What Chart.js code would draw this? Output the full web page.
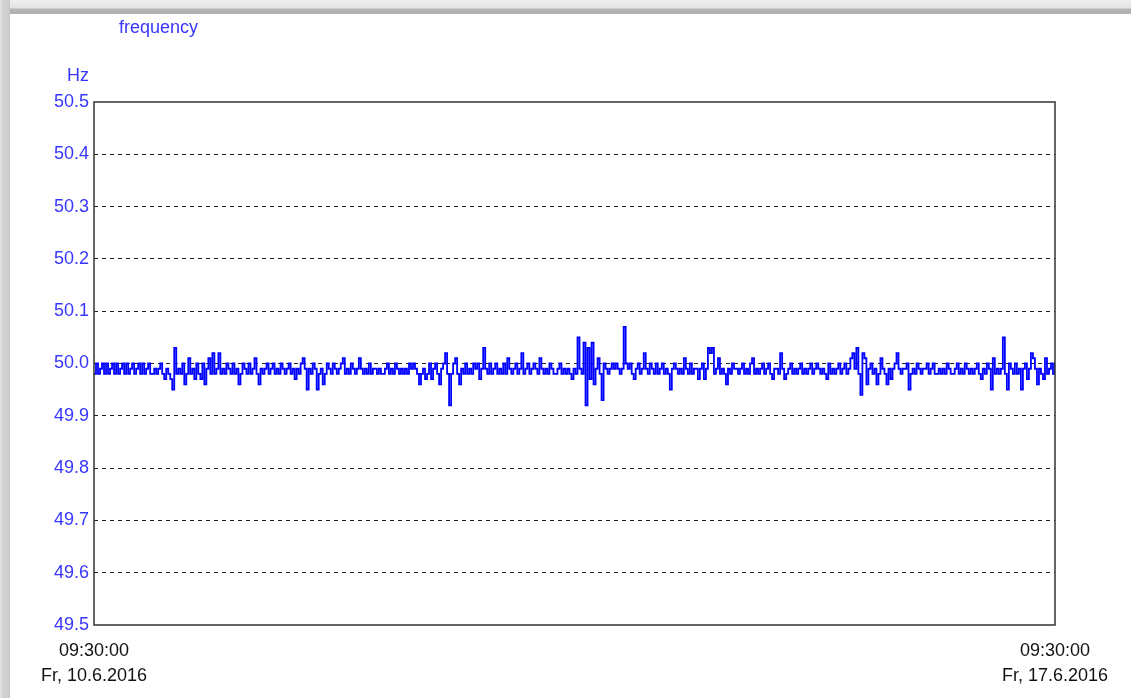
<!DOCTYPE html>
<html>
<head>
<meta charset="utf-8">
<script src="https://cdn.jsdelivr.net/npm/chart.js@4.4.0/dist/chart.umd.min.js"></script>
<style>
    body { margin: 0; width: 1131px; height: 698px; overflow: hidden; background: #fff; font-family: "Liberation Sans", Arial, sans-serif; }
    #topBar { position: absolute; left: 0; top: 0; width: 1131px; height: 14px; background: linear-gradient(#eeeeee 0px, #e2e2e2 8px, #b4b4b4 9px, #b0b0b0 14px); }
    #leftBar { position: absolute; left: 0; top: 0; width: 10px; height: 698px; background: linear-gradient(to right, #e4e4e4 0px, #d2d2d2 3px, #d0d0d0 8px, #c4c4c4 10px); }
    #box { position: absolute; left: 10px; top: 14px; width: 1121px; height: 684px; background: #fff; }
</style>
</head>
<body>
<div id="topBar"></div>
<div id="leftBar"></div>
<div id="box"><canvas id="freqChart" width="1121" height="684"></canvas></div>
<script>
// frequency readings, one week (10.6.2016 09:30 -> 17.6.2016 09:30), ~21 min apart
var freqValues = [
    49.98, 50.0, 49.98, 49.99, 50.0, 49.98, 50.0, 49.98, 49.99, 50.0, 49.98, 50.0, 49.98, 49.99, 50.0, 49.98, 50.0, 49.98, 49.99, 50.0,
    49.98, 49.99, 50.0, 49.98, 50.0, 49.98, 49.99, 50.0, 49.98, 49.98, 49.99, 49.98, 49.99, 50.0, 49.98, 49.97, 49.99, 49.98, 49.97, 49.95,
    50.03, 49.98, 49.99, 49.98, 50.0, 49.96, 49.98, 50.01, 49.98, 49.99, 49.97, 50.0, 49.98, 49.97, 50.0, 49.96, 49.99, 50.01, 49.98, 50.02,
    49.98, 49.99, 50.02, 49.98, 49.99, 49.98, 50.0, 49.99, 49.98, 50.0, 49.98, 49.99, 49.96, 49.98, 50.0, 49.99, 49.98, 50.0, 49.98, 49.99,
    50.01, 49.98, 49.96, 49.99, 49.98, 49.99, 50.0, 49.98, 49.99, 50.0, 49.98, 49.99, 49.98, 50.0, 49.99, 49.98, 49.99, 50.0, 49.98, 49.99,
    49.97, 49.99, 49.98, 50.0, 50.01, 49.99, 49.95, 49.99, 49.98, 50.0, 49.99, 49.95, 49.98, 49.99, 49.96, 49.98, 50.0, 49.99, 49.98, 50.0,
    49.99, 49.98, 49.99, 50.0, 50.01, 49.98, 49.99, 49.98, 50.0, 49.99, 49.98, 49.99, 50.01, 49.99, 49.98, 49.99, 49.98, 50.0, 49.98, 49.99,
    49.99, 49.98, 49.99, 49.98, 49.98, 49.99, 50.0, 49.98, 49.99, 49.98, 50.0, 49.99, 49.98, 49.99, 49.98, 49.99, 49.98, 50.0, 49.99, 50.0,
    49.99, 49.98, 49.96, 49.98, 49.99, 49.97, 49.98, 50.0, 49.97, 49.99, 50.0, 49.98, 49.96, 49.99, 50.0, 50.02, 49.98, 49.92, 49.98, 50.0,
    50.01, 49.98, 49.96, 49.99, 49.98, 50.0, 49.98, 49.99, 49.98, 50.0, 49.99, 50.0, 49.97, 49.99, 50.03, 49.99, 49.98, 50.0, 49.98, 49.99,
    50.0, 49.98, 49.99, 49.98, 50.0, 49.98, 50.01, 49.99, 49.98, 49.99, 50.0, 49.98, 49.99, 50.02, 49.98, 49.99, 50.0, 49.98, 49.99, 50.0,
    49.99, 49.98, 50.01, 49.99, 49.98, 49.99, 49.98, 50.0, 49.99, 49.98, 49.98, 49.99, 50.0, 49.98, 49.99, 49.98, 49.99, 49.98, 49.97, 49.99,
    49.98, 50.05, 49.99, 49.98, 50.04, 49.92, 50.03, 49.97, 50.04, 49.96, 49.99, 50.01, 49.98, 49.93, 50.0, 49.99, 49.98, 49.99, 50.0, 49.99,
    50.0, 49.99, 49.98, 49.99, 50.07, 50.0, 49.99, 50.0, 49.98, 49.97, 49.99, 50.0, 49.98, 49.99, 50.02, 49.99, 49.98, 50.0, 49.99, 49.98,
    50.0, 49.98, 49.99, 50.0, 49.98, 49.99, 49.98, 49.95, 49.99, 50.0, 49.99, 49.98, 49.99, 49.98, 50.01, 49.99, 49.98, 50.0, 49.98, 49.99,
    49.99, 49.97, 49.99, 50.0, 49.97, 49.99, 50.03, 50.02, 50.03, 49.98, 49.99, 50.01, 49.98, 49.99, 49.98, 49.96, 49.99, 49.98, 50.0, 49.99,
    49.99, 49.98, 49.99, 50.0, 49.98, 49.99, 49.98, 50.0, 50.01, 49.98, 49.99, 49.98, 49.99, 50.0, 49.98, 49.99, 50.0, 49.98, 49.97, 49.99,
    49.99, 49.98, 50.02, 49.99, 49.97, 49.98, 49.99, 50.0, 49.98, 49.99, 49.98, 49.99, 50.0, 49.98, 49.99, 49.98, 49.99, 50.0, 49.98, 49.99,
    50.0, 49.99, 49.98, 49.99, 49.98, 49.97, 50.0, 49.98, 49.99, 49.98, 49.99, 50.0, 49.98, 49.99, 50.0, 49.98, 49.99, 50.01, 50.02, 49.99,
    50.03, 49.98, 49.94, 50.02, 50.01, 49.96, 49.99, 50.0, 49.98, 49.99, 49.96, 49.98, 50.01, 49.99, 49.98, 49.96, 49.99, 49.97, 49.99, 50.0,
    50.02, 49.99, 49.98, 49.99, 49.99, 50.0, 49.95, 49.98, 49.99, 49.98, 50.0, 49.99, 49.98, 49.99, 49.99, 50.0, 49.98, 49.99, 50.0, 49.98,
    49.98, 49.99, 49.98, 49.99, 49.98, 50.0, 49.99, 49.98, 49.98, 49.99, 50.0, 49.98, 49.99, 49.98, 50.0, 49.99, 49.98, 49.99, 49.98, 49.99,
    50.0, 49.98, 49.97, 49.99, 49.98, 50.0, 49.99, 49.95, 50.01, 49.98, 49.99, 49.98, 49.99, 50.05, 49.98, 49.95, 50.0, 49.99, 49.98, 50.0,
    49.98, 49.99, 49.95, 49.99, 50.0, 49.97, 49.99, 50.02, 50.01, 49.99, 49.96, 49.99, 49.98, 49.97, 50.01, 49.98, 49.99, 50.0, 49.98, 50.0
];
var spanHours = 168;
var yTicks = [49.5, 49.6, 49.7, 49.8, 49.9, 50.0, 50.1, 50.2, 50.3, 50.4, 50.5];
var xTickLabels = [
    ['09:30:00', 'Fr, 10.6.2016'],
    ['09:30:00', 'Fr, 17.6.2016']
];
var chartTitle = 'frequency';
var unitLabel = 'Hz';

var points = freqValues.map(function (v, i) {
    return { x: i * spanHours / (freqValues.length - 1), y: v };
});

var blue = '#0000ff';
var labelBlue = '#3636ff';
var fontName = '"Liberation Sans", Arial, sans-serif';

// title, unit and solid frame around the plot
var decorPlugin = {
    id: 'decor',
    afterDraw: function (chart) {
        var ctx = chart.ctx;
        var a = chart.chartArea;
        ctx.save();
        ctx.strokeStyle = '#333333';
        ctx.lineWidth = 1.5;
        ctx.strokeRect(a.left, a.top, a.right - a.left, a.bottom - a.top);
        ctx.fillStyle = labelBlue;
        ctx.font = '18px ' + fontName;
        ctx.textBaseline = 'middle';
        ctx.textAlign = 'left';
        ctx.fillText(chartTitle, 109, 14);
        ctx.textAlign = 'right';
        ctx.fillText(unitLabel, 79, 62);
        ctx.restore();
    }
};

var ctx = document.getElementById('freqChart').getContext('2d');
var freqChart = new Chart(ctx, {
    type: 'line',
    data: {
        datasets: [{
            label: chartTitle,
            data: points,
            borderColor: blue,
            borderWidth: 1.8,
            stepped: true,
            pointRadius: 0,
            fill: false
        }]
    },
    options: {
        responsive: false,
        animation: false,
        layout: { padding: { top: 88, right: 76, left: 0, bottom: 0 } },
        plugins: {
            legend: { display: false },
            tooltip: { enabled: false }
        },
        scales: {
            x: {
                type: 'linear',
                min: 0,
                max: spanHours,
                afterBuildTicks: function (scale) {
                    scale.ticks = [{ value: 0 }, { value: spanHours }];
                },
                afterFit: function (scale) {
                    scale.height = 73;
                },
                grid: { display: false, drawTicks: false },
                border: { display: false },
                ticks: {
                    autoSkip: false,
                    maxRotation: 0,
                    padding: 13,
                    color: '#111111',
                    font: { family: fontName, size: 18, lineHeight: 1.4 },
                    callback: function (value, index) {
                        return xTickLabels[index];
                    }
                }
            },
            y: {
                min: yTicks[0],
                max: yTicks[yTicks.length - 1],
                afterBuildTicks: function (scale) {
                    scale.ticks = yTicks.map(function (t) { return { value: t }; });
                },
                afterFit: function (scale) {
                    scale.width = 84;
                },
                grid: {
                    drawTicks: false,
                    color: function (c) {
                        var v = c.tick ? c.tick.value : 0;
                        if (Math.abs(v - 49.5) < 0.001 || Math.abs(v - 50.5) < 0.001) return 'rgba(0,0,0,0)';
                        return '#222222';
                    },
                    lineWidth: 1
                },
                border: { display: false, dash: [4, 4] },
                ticks: {
                    padding: 5,
                    color: labelBlue,
                    font: { family: fontName, size: 18 },
                    callback: function (value) {
                        return Number(value).toFixed(1);
                    }
                }
            }
        }
    },
    plugins: [decorPlugin]
});
</script>
</body>
</html>
